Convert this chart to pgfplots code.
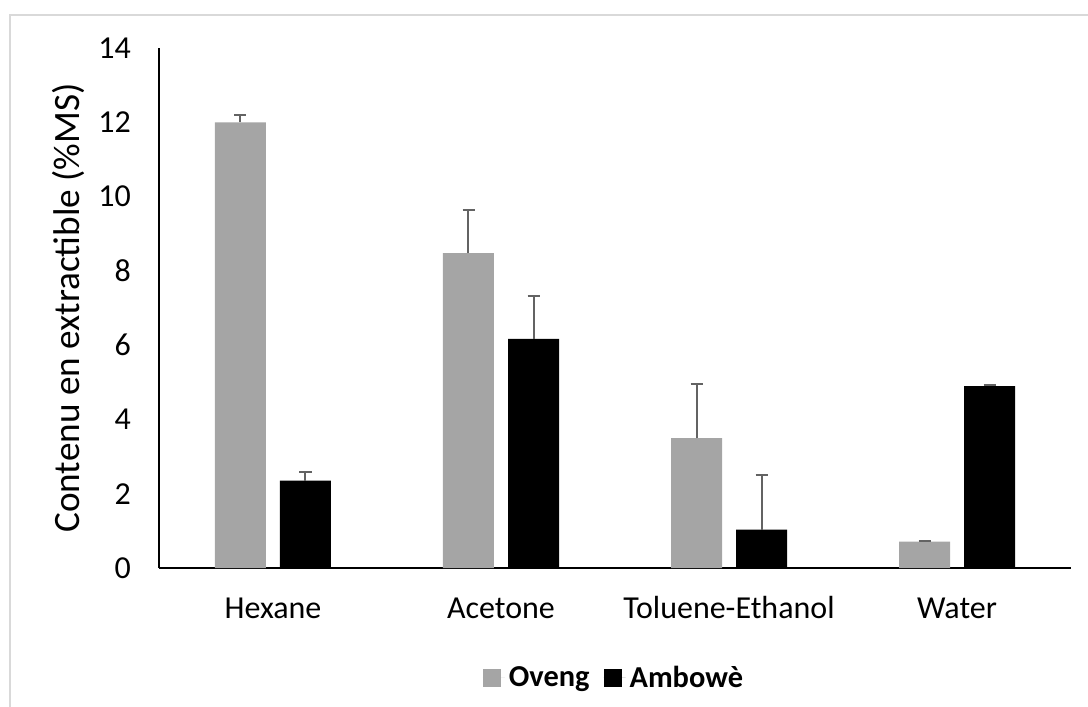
\documentclass[border=0pt]{standalone}
\usepackage{fontspec}
\setmainfont{Carlito}
\usepackage{pgfplots}
\pgfplotsset{compat=1.18}

\definecolor{oveng}{HTML}{A5A5A5}
\definecolor{ambowe}{HTML}{000000}
\definecolor{errgray}{HTML}{636363}
\definecolor{framegray}{HTML}{D9D9D9}

\pgfplotsset{
    errstyle/.style={
        error bars/y dir=plus,
        error bars/y explicit,
        error bars/error bar style={line width=1pt, color=errgray},
        error bars/error mark options={rotate=90, mark size=3pt, line width=1pt, color=errgray},
    },
}

\begin{document}
\begin{tikzpicture}
\useasboundingbox (-79.5pt,-69.5pt) rectangle (464.5pt,284pt);
\draw[framegray, line width=1pt] (-74.5pt,-75pt) -- (-74.5pt,276.5pt) -- (470pt,276.5pt);
\begin{axis}[
    scale only axis,
    width=456pt,
    height=260pt,
    ybar=7pt,
    bar width=25.5pt,
    xmin=-0.5, xmax=3.5,
    ymin=0, ymax=14,
    ytick={0,2,...,14},
    xtick=data,
    xticklabels={Hexane,Acetone,Toluene-Ethanol,Water},
    axis x line*=bottom,
    axis y line*=left,
    axis line style={-, line width=1pt, black},
    major tick length=0pt,
    tick style={draw=none},
    /pgf/number format/assume math mode=true,
    tick label style={font=\fontsize{16}{19}\selectfont},
    yticklabel style={xshift=-10.5pt},
    xticklabel style={anchor=base, yshift=-25pt},
    legend style={at={(0.5,-0.2115)}, anchor=center, legend columns=2, draw=none,
        font=\fontsize{15.2}{18}\selectfont\bfseries,
        /tikz/every even column/.append style={column sep=5pt}},
    legend image code/.code={\fill[#1] (0pt,-4.5pt) rectangle (9pt,4.5pt);
        \path (0pt,0pt) -- (11pt,0pt);},
]
\addplot[fill=oveng, draw=none, errstyle] coordinates {
    (0,12.0) +- (0,0.20)
    (1,8.48) +- (0,1.16)
    (2,3.50) +- (0,1.46)
    (3,0.71) +- (0,0.03)
};
\addplot[fill=ambowe, draw=none, errstyle] coordinates {
    (0,2.35) +- (0,0.23)
    (1,6.17) +- (0,1.15)
    (2,1.03) +- (0,1.47)
    (3,4.90) +- (0,0.03)
};
\legend{Oveng,Ambowè}
\end{axis}
\node[rotate=90, font=\fontsize{18.6}{22}\selectfont] at (-45.5pt,130pt) {Contenu en extractible (\%MS)};
\end{tikzpicture}
\end{document}
